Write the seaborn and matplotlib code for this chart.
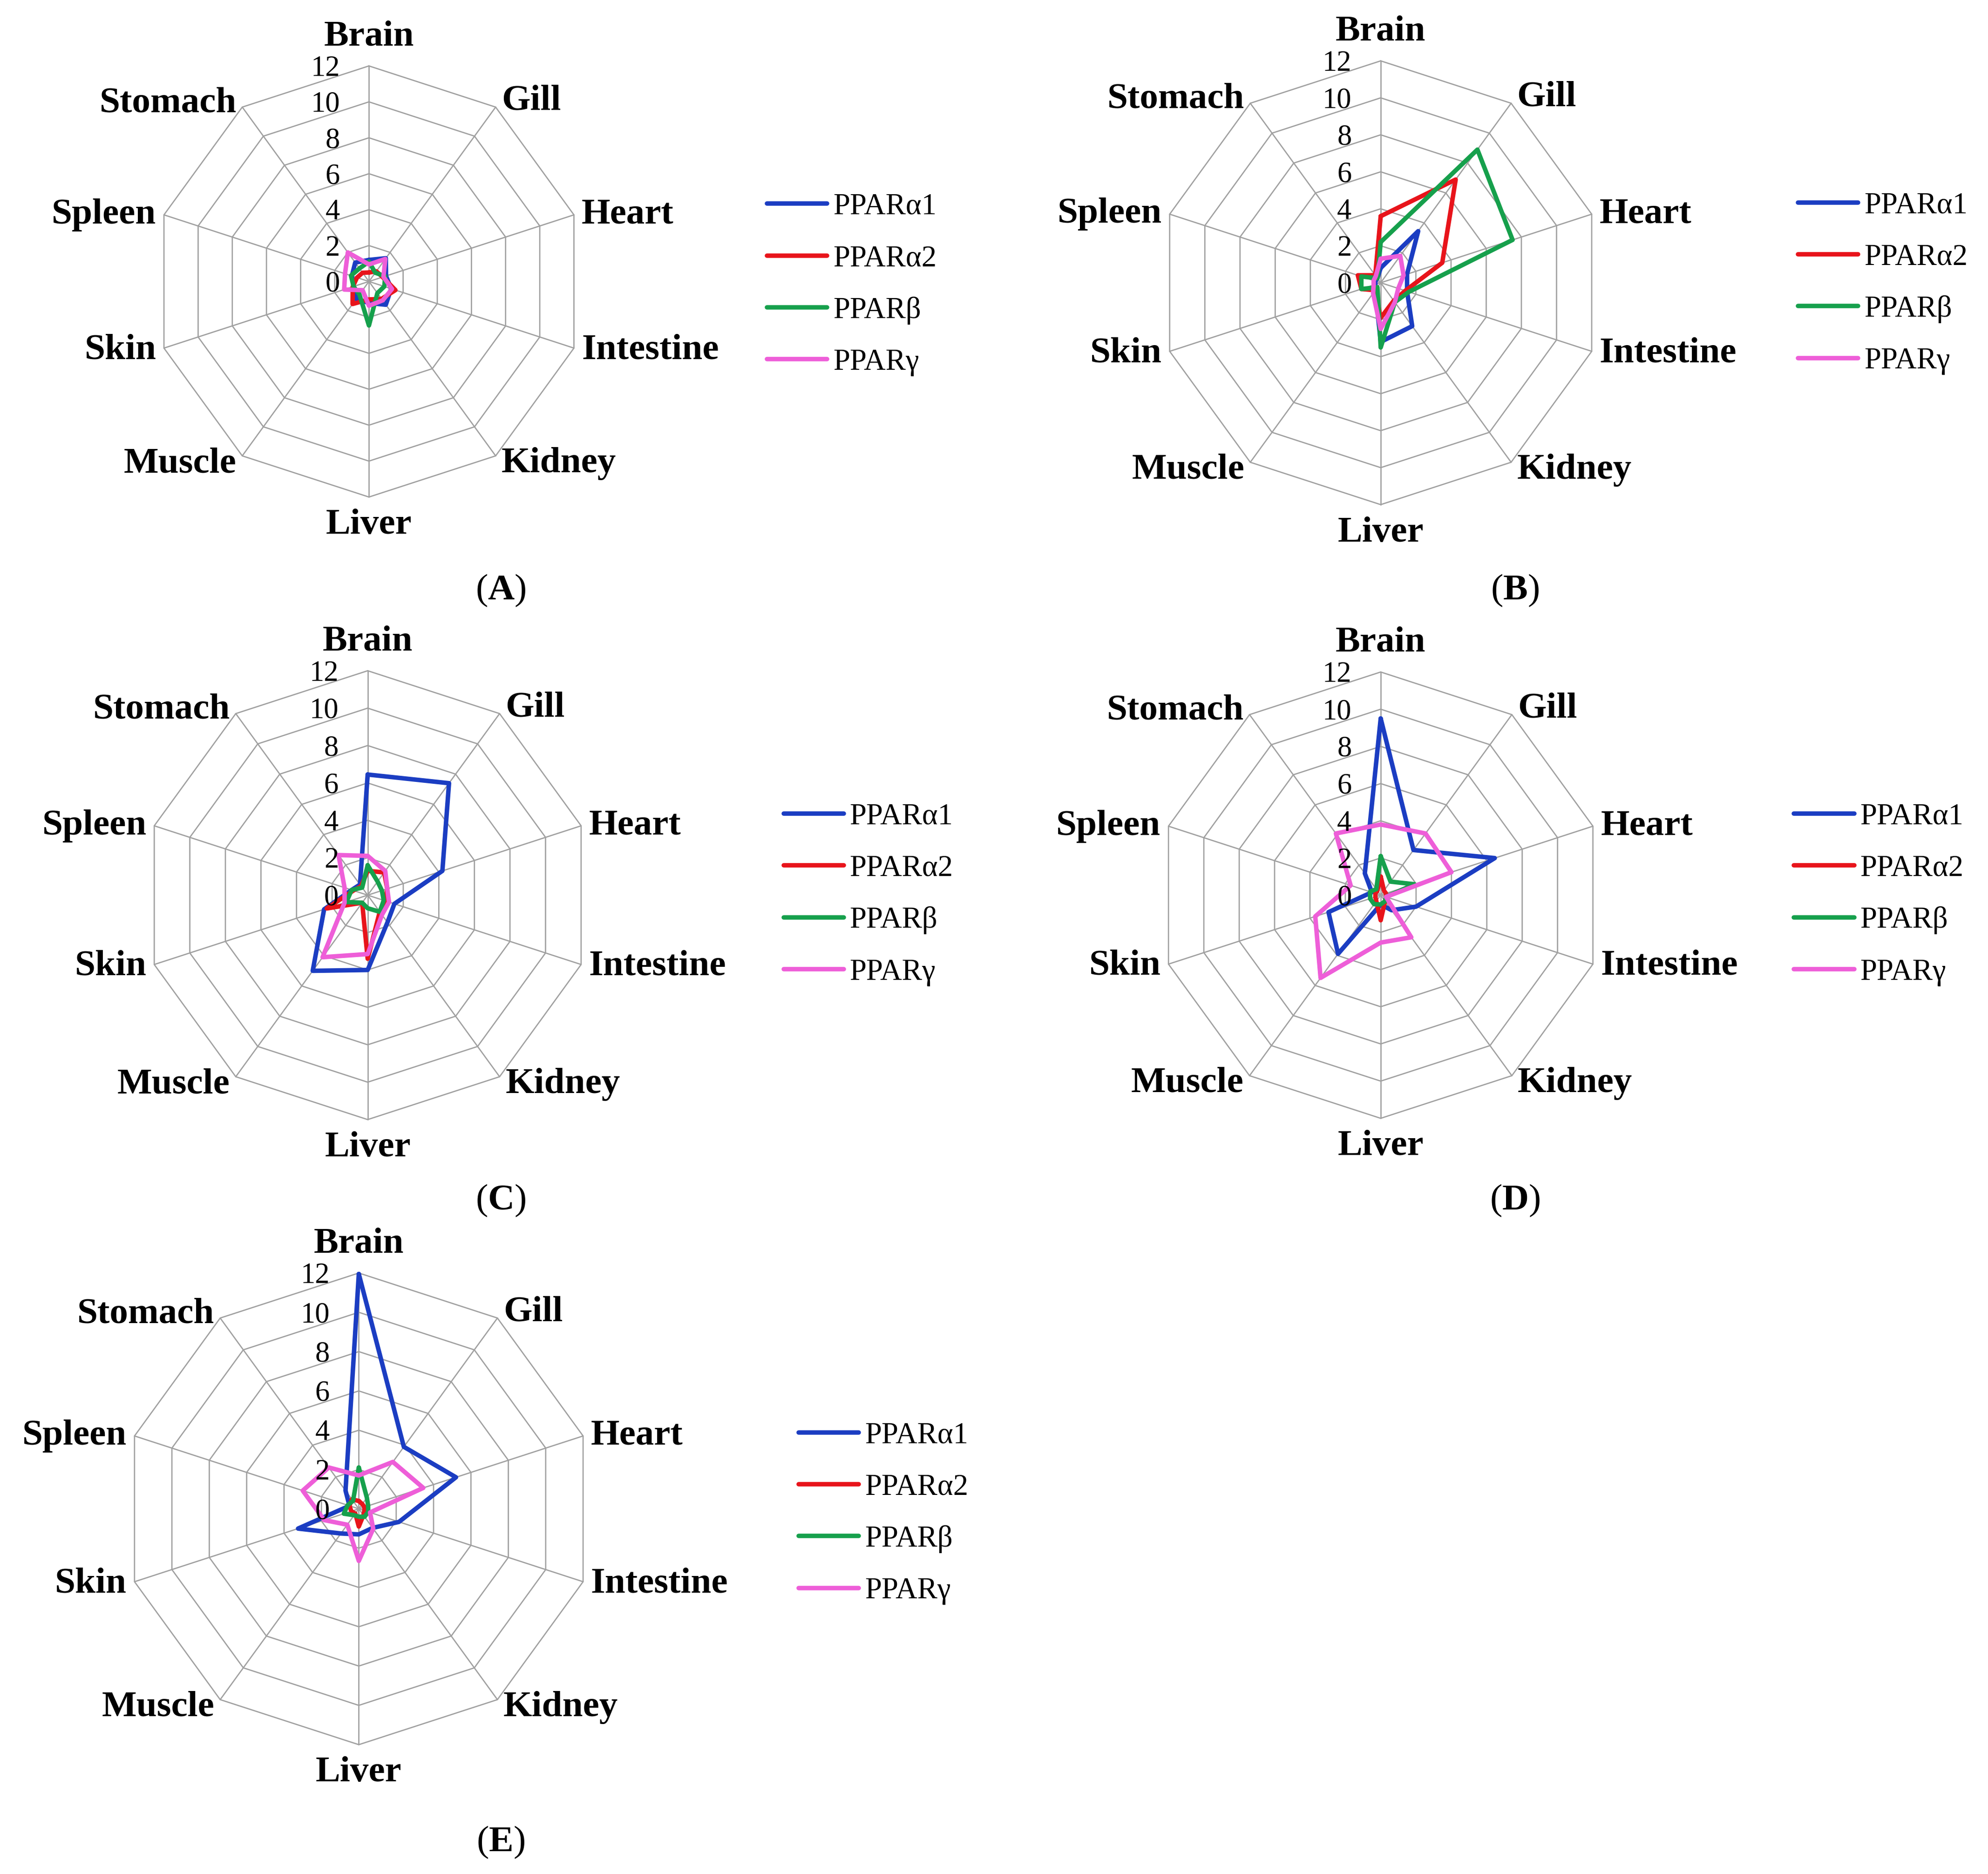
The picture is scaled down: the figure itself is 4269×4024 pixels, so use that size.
import numpy as np
import pandas as pd
import matplotlib.pyplot as plt
import seaborn as sns

# =====================================================================
# DADOS (lidos do gráfico de radar original)
# =====================================================================
tecidos = ['Brain', 'Gill', 'Heart', 'Intestine', 'Kidney',
           'Liver', 'Muscle', 'Skin', 'Spleen', 'Stomach']
genes = ['PPARα1', 'PPARα2', 'PPARβ', 'PPARγ']
niveis = [0, 2, 4, 6, 8, 10, 12]

# painel A
a_alfa1 = [1.2, 1.6, 1.0, 1.3, 1.6, 1.2, 1.2, 0.9, 1.0, 1.3]
a_alfa2 = [0.5, 0.7, 0.8, 1.55, 1.2, 1.0, 1.55, 0.95, 0.7, 0.6]
a_beta = [1.1, 0.6, 0.95, 0.9, 0.8, 2.45, 0.9, 0.9, 1.05, 0.9]
a_gama = [0.95, 1.55, 0.85, 1.35, 1.3, 1.35, 0.6, 1.45, 1.4, 2.0]

# painel B
b_alfa1 = [0.8, 3.45, 1.5, 1.5, 2.9, 3.2, 0.5, 0.3, 0.3, 0.3]
b_alfa2 = [3.6, 6.9, 3.5, 1.4, 1.2, 1.9, 0.5, 1.1, 1.3, 0.5]
b_beta = [2.2, 8.9, 7.5, 1.6, 1.3, 3.5, 0.3, 1.1, 1.1, 0.3]
b_gama = [1.3, 1.8, 1.3, 1.0, 1.3, 2.5, 0.7, 0.4, 0.4, 0.45]

# painel C
c_alfa1 = [6.45, 7.4, 4.2, 1.5, 1.8, 4.0, 5.0, 2.45, 0.9, 0.7]
c_alfa2 = [1.3, 1.5, 1.1, 1.0, 1.1, 3.4, 0.5, 2.3, 0.8, 0.6]
c_beta = [1.6, 0.9, 0.8, 0.9, 1.1, 0.7, 0.5, 1.2, 0.9, 0.5]
c_gama = [2.1, 1.6, 1.1, 1.2, 1.3, 3.15, 4.1, 1.3, 1.3, 2.65]

# painel D
d_alfa1 = [9.5, 3.0, 6.45, 2.0, 1.0, 0.5, 3.9, 2.95, 0.5, 1.45]
d_alfa2 = [1.0, 0.3, 0.3, 0.3, 0.4, 1.35, 0.4, 0.3, 0.3, 0.3]
d_beta = [2.1, 0.9, 1.9, 0.3, 0.4, 0.5, 0.6, 0.6, 0.6, 0.4]
d_gama = [3.8, 4.1, 4.0, 0.3, 2.8, 2.55, 5.5, 3.7, 1.7, 4.1]

# painel E
e_alfa1 = [11.95, 3.9, 5.2, 2.15, 1.2, 1.3, 1.55, 3.25, 0.5, 1.15]
e_alfa2 = [0.4, 0.3, 0.3, 0.3, 0.4, 0.9, 0.3, 0.4, 0.5, 0.6]
e_beta = [2.1, 0.7, 0.5, 0.5, 0.5, 0.4, 0.4, 0.8, 0.6, 0.5]
e_gama = [1.7, 2.95, 3.45, 0.6, 1.25, 2.65, 1.0, 1.85, 3.0, 2.6]

paineis = {
    'A': [a_alfa1, a_alfa2, a_beta, a_gama],
    'B': [b_alfa1, b_alfa2, b_beta, b_gama],
    'C': [c_alfa1, c_alfa2, c_beta, c_gama],
    'D': [d_alfa1, d_alfa2, d_beta, d_gama],
    'E': [e_alfa1, e_alfa2, e_beta, e_gama],
}

cores = {'PPARα1': '#1B3DC2', 'PPARα2': '#E8141B',
         'PPARβ': '#16A04C', 'PPARγ': '#EE5ED8'}
COR_GRADE = '#A0A0A0'

# =====================================================================
# LAYOUT (em pixels da imagem de referência reduzida 1568 x 1478)
# centro, raio do anel 12, posição da legenda, posição do rótulo
# =====================================================================
LARG_REF, ALT_REF = 1568.0, 1478.0
layout = {
    'A': ((291, 222), 170, (605, 224.5), (395, 466)),
    'B': ((1089, 223), 175, (1418, 223.5), (1195, 466)),
    'C': ((290, 706), 177, (618, 705.5), (395, 947)),
    'D': ((1089, 706), 176, (1415, 705.5), (1195, 947)),
    'E': ((283, 1190), 186, (630, 1193.5), (395, 1453)),
}

FIG_W, FIG_H = 4269 / 300, 4024 / 300

# offsets (pontos) e alinhamento dos nomes dos tecidos
offs_tecidos = [((0, 6.5), 'center', 'bottom'),
                ((3, 3), 'left', 'center'),
                ((4, 0), 'left', 'center'),
                ((4, -1), 'left', 'center'),
                ((3, -4), 'left', 'center'),
                ((0, -6), 'center', 'top'),
                ((-3, -4), 'right', 'center'),
                ((-4, -1), 'right', 'center'),
                ((-4, 0), 'right', 'center'),
                ((-3, 2), 'right', 'center')]


def desenhar_radar(fig, letra):
    (cx, cy), raio, (lx, ly), (rx, ry) = layout[letra]
    w = 2 * raio / LARG_REF
    h = 2 * raio / ALT_REF
    ax = fig.add_axes([cx / LARG_REF - w / 2, 1 - cy / ALT_REF - h / 2, w, h],
                      projection='polar')
    ax.set_theta_zero_location('N')
    ax.set_theta_direction(-1)
    ax.set_ylim(0, 12)
    ax.grid(False)
    ax.set_xticks([])
    ax.set_yticks([])
    ax.spines['polar'].set_visible(False)
    ax.set_facecolor('none')

    angulos = np.linspace(0, 2 * np.pi, len(tecidos), endpoint=False)
    fechado = np.append(angulos, 2 * np.pi)

    # grade poligonal
    for a in angulos:
        ax.plot([a, a], [0, 12], color=COR_GRADE, lw=0.65, clip_on=False, zorder=1)
    for r in niveis[1:]:
        ax.plot(fechado, [r] * len(fechado), color=COR_GRADE, lw=0.65,
                clip_on=False, zorder=1)

    # dados
    linhas = []
    for gene, valores in zip(genes, paineis[letra]):
        vals = list(valores) + [valores[0]]
        for ang, v in zip(fechado, vals):
            linhas.append({'ang': ang, 'valor': v, 'gene': gene})
    df = pd.DataFrame(linhas)
    sns.lineplot(data=df, x='ang', y='valor', hue='gene', palette=cores,
                 hue_order=genes, sort=False, estimator=None, lw=2.3, ax=ax)
    for ln in ax.get_lines():
        ln.set_clip_on(False)
    ax.set_xlabel('')
    ax.set_ylabel('')

    # rótulos dos anéis
    for n in niveis:
        ax.annotate(str(n), xy=(0, n), xytext=(-15, -1.5), textcoords='offset points',
                    ha='right', va='center', fontsize=15, color='black',
                    annotation_clip=False)

    # nomes dos tecidos
    for a, t, (off, ha, va) in zip(angulos, tecidos, offs_tecidos):
        ax.annotate(t, xy=(a, 12), xytext=off, textcoords='offset points',
                    ha=ha, va=va, fontsize=19, fontweight='bold', color='black',
                    annotation_clip=False)

    handles, labels = ax.get_legend_handles_labels()
    leg = ax.legend(handles, labels, loc='center left',
                    bbox_to_anchor=(lx / LARG_REF, 1 - ly / ALT_REF),
                    bbox_transform=fig.transFigure, frameon=False, fontsize=15.5,
                    handlelength=2.0, handletextpad=0.2, labelspacing=0.8,
                    borderpad=0, borderaxespad=0)
    for txt in leg.get_texts():
        txt.set_color('black')

    fig.text(rx / LARG_REF, 1 - ry / ALT_REF, r'($\mathbf{' + letra + '}$)',
             ha='center', va='center', fontsize=19, color='black')


if __name__ == "__main__":
    sns.set_theme(style="white")
    plt.rcParams['font.family'] = ['Liberation Serif', 'DejaVu Serif']
    plt.rcParams['text.color'] = 'black'
    plt.rcParams['mathtext.fontset'] = 'custom'
    plt.rcParams['mathtext.rm'] = 'Liberation Serif'
    plt.rcParams['mathtext.bf'] = 'Liberation Serif:bold'

    fig = plt.figure(figsize=(FIG_W, FIG_H), dpi=300)
    fig.patch.set_facecolor('white')
    for letra in paineis:
        desenhar_radar(fig, letra)

    fig.savefig("out.png", dpi=300, facecolor='white')
    plt.close(fig)
